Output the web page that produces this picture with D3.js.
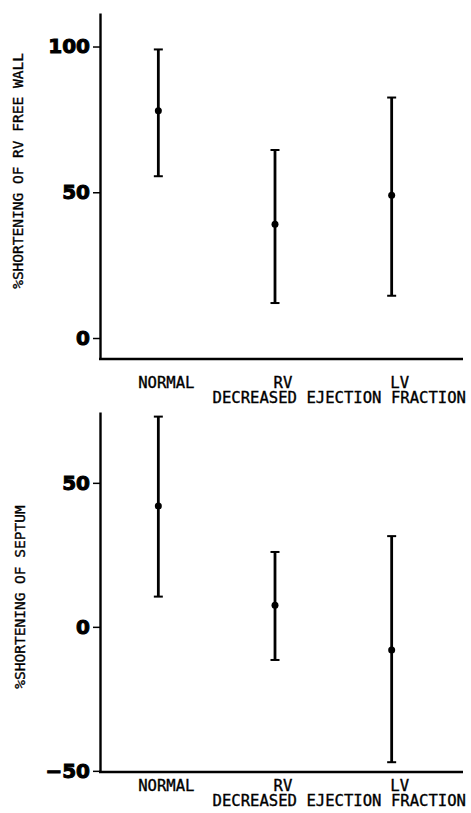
<!DOCTYPE html>
<html>
<head>
<meta charset="utf-8">
<script src="https://cdn.jsdelivr.net/npm/d3@7"></script>
<style>
  body { margin: 0; background: #fff; }
  .lab { font-family: "DejaVu Sans Mono", "Liberation Mono", monospace; font-size: 15.6px; fill: #000; stroke: #000; stroke-width: 0.35px; }
  .tick text { font-family: "DejaVu Sans", sans-serif; font-weight: bold; font-size: 20px; fill: #000; stroke: #000; stroke-width: 1px; }
</style>
</head>
<body>
<div id="chart"></div>
<script>
// categories on the x axis
var categories = ["NORMAL", "RV", "LV"]

// top panel: % shortening of RV free wall (mean, low, high)
var wallMean = [78, 39, 49]
var wallLow  = [55.5, 12, 14.5]
var wallHigh = [99, 64.5, 82.5]
var wallTicks = [0, 50, 100]

// bottom panel: % shortening of septum
var septMean = [42, 7.5, -8]
var septLow  = [10.5, -11.5, -47]
var septHigh = [73, 26, 31.5]
var septTicks = [-50, 0, 50]

var width = 471, height = 813
var svg = d3.select("#chart").append("svg")
    .attr("width", width)
    .attr("height", height)

var x = d3.scalePoint().domain(categories).range([100, 450]).padding(0.5)

function panel(opt) {
  var g = svg.append("g")
  var y = d3.scaleLinear().domain(opt.domain).range([opt.bottom, opt.top])

  // y axis
  var ax = g.append("g")
      .attr("transform", "translate(100,0)")
      .call(d3.axisLeft(y).tickValues(opt.ticks).tickSize(7).tickSizeOuter(0).tickPadding(3))
  ax.select(".domain").attr("stroke", "#000").attr("stroke-width", 2.4)
  ax.selectAll(".tick line").attr("stroke", "#000").attr("stroke-width", 1.5)

  // x axis line
  g.append("line")
      .attr("x1", 99).attr("x2", 463)
      .attr("y1", opt.bottom).attr("y2", opt.bottom)
      .attr("stroke", "#000").attr("stroke-width", 2.4)

  // error bars
  var bars = g.selectAll(".bar").data(categories).enter().append("g").attr("class", "bar")
  bars.append("line")
      .attr("x1", function(d) { return x(d) }).attr("x2", function(d) { return x(d) })
      .attr("y1", function(d, i) { return y(opt.low[i]) })
      .attr("y2", function(d, i) { return y(opt.high[i]) })
      .attr("stroke", "#000").attr("stroke-width", 2.8)
  bars.append("line")
      .attr("x1", function(d) { return x(d) - 4.5 }).attr("x2", function(d) { return x(d) + 4.5 })
      .attr("y1", function(d, i) { return y(opt.high[i]) })
      .attr("y2", function(d, i) { return y(opt.high[i]) })
      .attr("stroke", "#000").attr("stroke-width", 2)
  bars.append("line")
      .attr("x1", function(d) { return x(d) - 4.5 }).attr("x2", function(d) { return x(d) + 4.5 })
      .attr("y1", function(d, i) { return y(opt.low[i]) })
      .attr("y2", function(d, i) { return y(opt.low[i]) })
      .attr("stroke", "#000").attr("stroke-width", 2)
  bars.append("circle")
      .attr("cx", function(d) { return x(d) })
      .attr("cy", function(d, i) { return y(opt.mean[i]) })
      .attr("r", 3.5)
      .attr("fill", "#000")

  // category labels
  g.selectAll(".cat").data(categories).enter().append("text")
      .attr("class", "lab")
      .attr("x", function(d) { return x(d) + 8 })
      .attr("y", opt.bottom + opt.labGap)
      .attr("text-anchor", "middle")
      .text(function(d) { return d })
  g.append("text")
      .attr("class", "lab")
      .attr("x", 466)
      .attr("y", opt.bottom + opt.labGap + 15)
      .attr("text-anchor", "end")
      .text("DECREASED EJECTION FRACTION")

  // y title
  g.append("text")
      .attr("class", "lab")
      .style("font-size", "14.5px")
      .attr("transform", "translate(" + opt.titleX + "," + opt.titleY + ") rotate(-90)")
      .attr("text-anchor", "middle")
      .text(opt.title)
}

panel({
  domain: [-7.2, 111.5], top: 13, bottom: 359,
  ticks: wallTicks, mean: wallMean, low: wallLow, high: wallHigh,
  labGap: 29, title: "%SHORTENING OF RV FREE WALL",
  titleX: 23, titleY: 171
})

panel({
  domain: [-50.4, 74.6], top: 412, bottom: 772,
  ticks: septTicks, mean: septMean, low: septLow, high: septHigh,
  labGap: 19, title: "%SHORTENING OF SEPTUM",
  titleX: 25, titleY: 597
})
</script>
</body>
</html>
